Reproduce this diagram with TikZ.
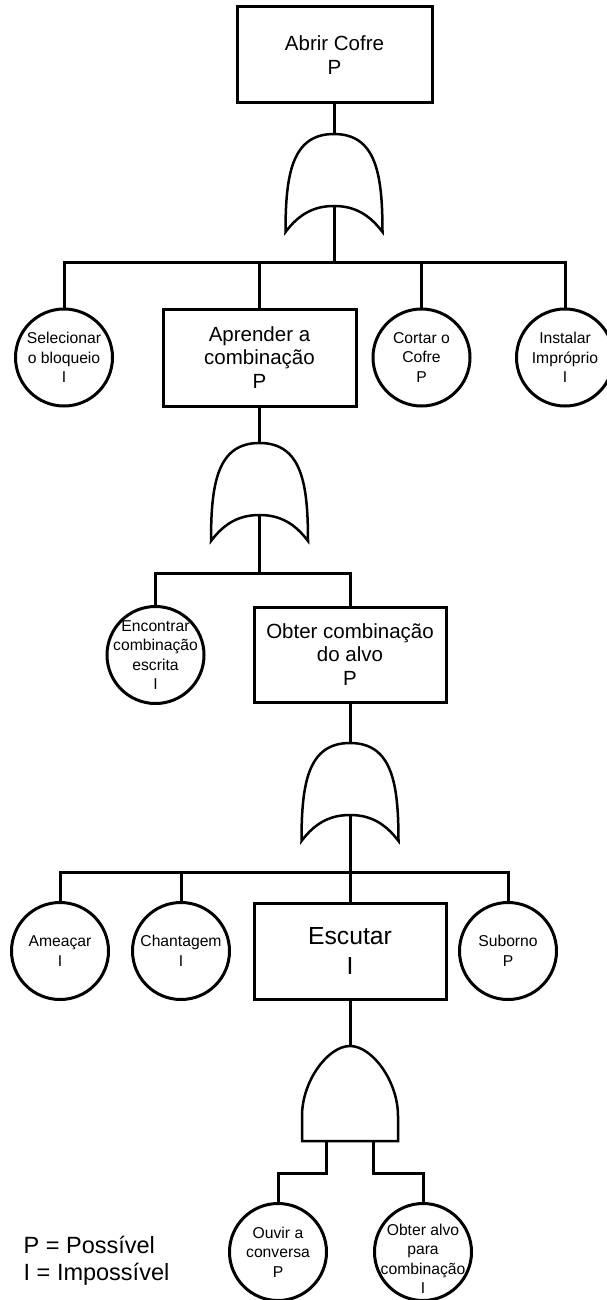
\documentclass[tikz,border=0pt]{standalone}
\usepackage{fontspec}
\setmainfont{Liberation Sans}
\begin{document}
\begin{tikzpicture}[x=1pt,y=-1pt,
  wire/.style={line width=3pt},
  boxnode/.style={draw, line width=3pt, rectangle, inner sep=0pt, align=center,
    font=\fontsize{20.5}{23.5}\selectfont},
  evt/.style={draw, line width=3pt, circle, minimum size=97pt, inner sep=0pt},
  ctext/.style={align=center, inner sep=0pt, font=\fontsize{15.7}{19.5}\selectfont},
  legend/.style={anchor=base west, inner sep=0pt, font=\fontsize{23.5}{27}\selectfont},
  orgate/.pic={
    \draw[line width=2.5pt] (-48.5,98) .. controls (-48.5,40) and (-42,0) .. (0,0)
      .. controls (42,0) and (48.5,40) .. (48.5,98)
      .. controls (35,80) and (20,72) .. (0,72)
      .. controls (-20,72) and (-35,80) .. (-48.5,98) -- cycle;
    \coordinate (-top) at (0,0);
    \coordinate (-out) at (0,72);
  },
  andgate/.pic={
    \draw[line width=2.5pt] (-48,95) -- (-48,70) .. controls (-48,35) and (-22,0) .. (0,0)
      .. controls (22,0) and (48,35) .. (48,70) -- (48,95) -- cycle;
    \coordinate (-top) at (0,0);
    \coordinate (-l) at (-23.5,95);
    \coordinate (-r) at (23.5,95);
  }]
\useasboundingbox (0,0) rectangle (606,1300);

% top event
\node[boxnode, minimum width=195pt, minimum height=96pt] (top) at (334.5,55) {Abrir Cofre\\P};
\pic (g1) at (334,134) {orgate};
\coordinate (j1) at (334,262);

% first level
\node[evt, label={[ctext]center:{Selecionar\\o bloqueio\\I}}] (sel) at (64,357.5) {};
\node[boxnode, minimum width=193pt, minimum height=97pt] (apr) at (259.5,357.5) {Aprender a\\combinação\\P};
\node[evt, label={[ctext]center:{Cortar o\\Cofre\\P}}] (cut) at (421.5,357.5) {};
\node[evt, label={[ctext]center:{Instalar\\Impróprio\\I}}] (inst) at (565,357.5) {};

\draw[wire] (g1-top) -- (g1-top |- top.south);
\draw[wire] (g1-out) -- (j1);
\foreach \n in {sel,apr,cut,inst} \draw[wire] (j1) -| (\n.north);

% second level
\pic (g2) at (259.5,443) {orgate};
\coordinate (j2) at (259.5,573);
\node[evt, label={[ctext]center:{Encontrar\\combinação\\escrita\\I}}] (enc) at (155.5,655) {};
\node[boxnode, minimum width=192pt, minimum height=95pt] (obt) at (350,654.5) {Obter combinação\\do alvo\\P};

\draw[wire] (g2-top) -- (g2-top |- apr.south);
\draw[wire] (g2-out) -- (j2);
\foreach \n in {enc,obt} \draw[wire] (j2) -| (\n.north);

% third level
\pic (g3) at (350,743) {orgate};
\coordinate (j3) at (350,872);
\node[evt, label={[ctext]center:{Ameaçar\\I}}] (ame) at (60,951) {};
\node[evt, label={[ctext]center:{Chantagem\\I}}] (cha) at (181,951) {};
\node[boxnode, minimum width=192pt, minimum height=96pt, font=\fontsize{24.7}{30}\selectfont] (esc) at (350,951) {Escutar\\I};
\node[evt, label={[ctext]center:{Suborno\\P}}] (sub) at (508,951) {};

\draw[wire] (g3-top) -- (g3-top |- obt.south);
\draw[wire] (g3-out) -- (j3);
\foreach \n in {ame,cha,esc,sub} \draw[wire] (j3) -| (\n.north);

% AND gate and its inputs
\pic (a1) at (350,1046) {andgate};
\coordinate (k1) at (326.5,1173);
\coordinate (k2) at (373.5,1173);
\node[evt, label={[ctext]center:{Ouvir a\\conversa\\P}}] (ouv) at (278,1252) {};
\node[evt, label={[ctext, yshift=-7pt]center:{Obter alvo\\para\\combinação\\I}}] (alv) at (423,1252) {};

\draw[wire] (a1-top) -- (a1-top |- esc.south);
\draw[wire] (a1-l) -- (k1) -| (ouv.north);
\draw[wire] (a1-r) -- (k2) -| (alv.north);

% legend
\node[legend] (leg1) at (23.5,1253) {P = Possível};
\node[legend] (leg2) at (23.5,1280) {I = Impossível};
\end{tikzpicture}
\end{document}
